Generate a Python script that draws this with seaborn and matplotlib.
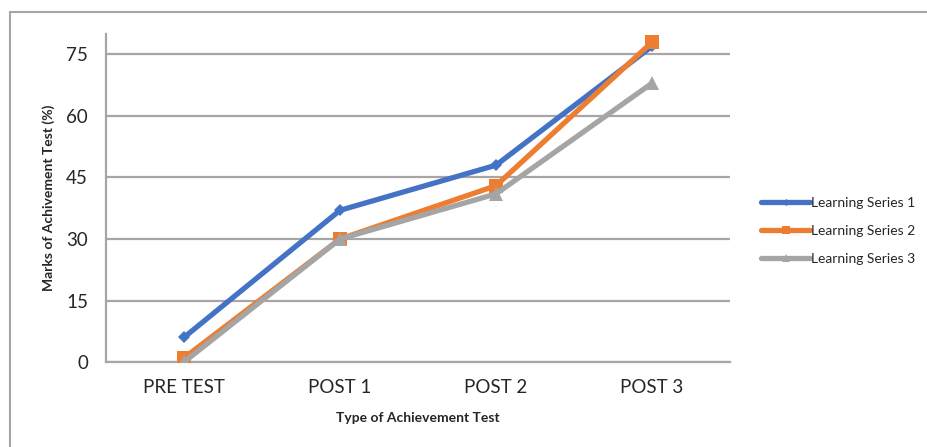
import pandas as pd
import seaborn as sns
import matplotlib.pyplot as plt
from matplotlib.patches import Rectangle

# data
tests = ['PRE TEST', 'POST 1', 'POST 2', 'POST 3']
series_1 = [6, 37, 48, 77]
series_2 = [1, 30, 43, 78]
series_3 = [0, 30, 41, 68]
names = ['Learning Series 1', 'Learning Series 2', 'Learning Series 3']

rows = []
for name, vals in zip(names, [series_1, series_2, series_3]):
    for i, v in enumerate(vals):
        rows.append({'test': i, 'mark': v, 'series': name})
df = pd.DataFrame(rows)

sns.set_style('white')
plt.rcParams['font.family'] = ['Lato', 'DejaVu Sans']

fig = plt.figure(figsize=(9.27, 4.47), dpi=100)
ax = fig.add_axes([106/927, 85/447, 624/927, 328/447])

# outer chart border
fig.patches.append(Rectangle((10/927, -0.1), 1.1, (447-12)/447 + 0.1,
                             transform=fig.transFigure, fill=False,
                             edgecolor='#a6a6a6', linewidth=1.5))

palette = {names[0]: '#4472C4', names[1]: '#ED7D31', names[2]: '#A5A5A5'}
markers = {names[0]: 'D', names[1]: 's', names[2]: '^'}
sizes = {names[0]: 6, names[1]: 10, names[2]: 10}

for name in names:
    sub = df[df['series'] == name]
    sns.lineplot(data=sub, x='test', y='mark', ax=ax, color=palette[name],
                 marker=markers[name], markersize=sizes[name], linewidth=3.8,
                 markeredgewidth=0, label=name, zorder=3)

ax.set_xlim(-0.5, 3.5)
ax.set_ylim(0, 80)
ax.set_yticks([0, 15, 30, 45, 60, 75])
ax.set_xticks(range(len(tests)))
ax.set_xticklabels(tests)
ax.set_xticks([-0.5, 0.5, 1.5, 2.5, 3.5], minor=True)
ax.tick_params(axis='x', which='major', length=0, labelsize=13.5, pad=12)
ax.tick_params(axis='x', which='minor', length=7, width=1.5, color='#a6a6a6')
ax.tick_params(axis='y', length=7, width=1.5, color='#a6a6a6', labelsize=13.5, pad=6)
ax.yaxis.grid(True, color='#a6a6a6', linewidth=1.6)
ax.set_axisbelow(True)
for s in ['top', 'right']:
    ax.spines[s].set_visible(False)
for s in ['left', 'bottom']:
    ax.spines[s].set_color('#a6a6a6')
    ax.spines[s].set_linewidth(1.6)
ax.spines['bottom'].set_zorder(2)

ax.set_xlabel('Type of Achievement Test', fontsize=10, fontweight='bold', labelpad=12)
ax.set_ylabel('Marks of Achivement Test (%)', fontsize=10, fontweight='bold', labelpad=8)

ax.legend(loc='center left', bbox_to_anchor=(1.03, 0.40), frameon=False,
          fontsize=10, handlelength=3.5, handletextpad=0.05, labelspacing=1.15,
          markerscale=0.6)

fig.savefig('out.png', dpi=100)
